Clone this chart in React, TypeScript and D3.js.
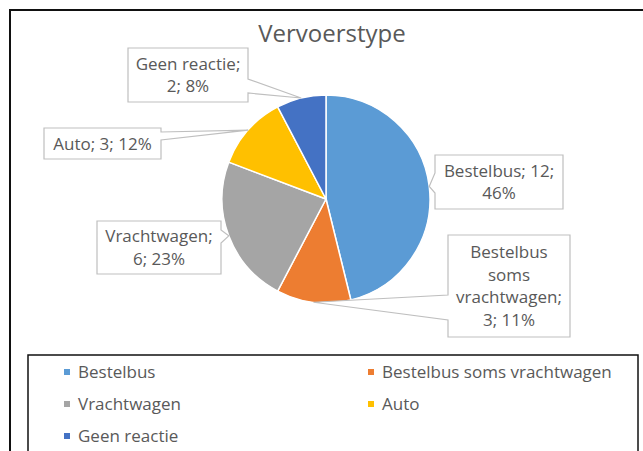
import React, { useRef, useEffect } from "react";
import * as d3 from "d3";

// Chart data
const categories = ["Bestelbus", "Bestelbus soms vrachtwagen", "Vrachtwagen", "Auto", "Geen reactie"];
const counts = [12, 3, 6, 3, 2];
const pctLabels = ["46%", "11%", "23%", "12%", "8%"];
const colors = ["#5B9BD5", "#ED7D31", "#A5A5A5", "#FFC000", "#4472C4"];

// label text lines (as Excel wrapped them)
const labelLines = [
  ["Bestelbus; 12;", pctLabels[0]],
  ["Bestelbus", "soms", "vrachtwagen;", "3; " + pctLabels[1]],
  ["Vrachtwagen;", "6; " + pctLabels[2]],
  ["Auto; 3; " + pctLabels[3]],
  ["Geen reactie;", "2; " + pctLabels[4]],
];

// callout boxes: [x, y, w, h, side of pointer, pointer base y0, y1]
const boxes: [number, number, number, number, "left" | "right", number, number][] = [
  [435, 155, 128, 54, "left", 173, 193],
  [448, 235, 122, 102, "left", 295, 320],
  [97, 221, 124, 53, "right", 230, 243],
  [44, 128, 117, 31, "right", 132, 140],
  [128, 48, 120, 54, "right", 79, 93],
];

const FONT = "'Open Sans', 'Noto Sans', sans-serif";

export default function App() {
  const ref = useRef<SVGSVGElement | null>(null);
  const width = 643, height = 451;
  const cx = 326, cy = 199, r = 104;

  useEffect(() => {
    const svg = d3.select(ref.current);
    svg.selectAll("*").remove();

    // outer chart frame
    svg.append("rect")
      .attr("x", 10).attr("y", 10)
      .attr("width", 660).attr("height", 470)
      .attr("fill", "#fff").attr("stroke", "#111").attr("stroke-width", 2);

    svg.append("text")
      .attr("x", 332).attr("y", 42)
      .attr("text-anchor", "middle")
      .attr("font-family", FONT).attr("font-size", 24)
      .attr("fill", "#595959")
      .text("Vervoerstype");

    const pie = d3.pie<number>().sort(null).value(d => d);
    const arcs = pie(counts);
    const arc = d3.arc<d3.PieArcDatum<number>>().innerRadius(0).outerRadius(r);

    const g = svg.append("g").attr("transform", `translate(${cx},${cy})`);
    g.selectAll("path")
      .data(arcs)
      .join("path")
      .attr("d", arc)
      .attr("fill", (d, i) => colors[i])
      .attr("stroke", "#fff")
      .attr("stroke-width", 1.5);

    // callouts
    arcs.forEach((a, i) => {
      const mid = (a.startAngle + a.endAngle) / 2;
      const tx = cx + r * Math.sin(mid);
      const ty = cy - r * Math.cos(mid);
      const [bx, by, bw, bh, side, p0, p1] = boxes[i];
      const pts: [number, number][] = side === "left"
        ? [[bx, by], [bx + bw, by], [bx + bw, by + bh], [bx, by + bh], [bx, p1], [tx, ty], [bx, p0]]
        : [[bx, by], [bx + bw, by], [bx + bw, p0], [tx, ty], [bx + bw, p1], [bx + bw, by + bh], [bx, by + bh]];
      svg.append("path")
        .attr("d", d3.line()(pts) + "Z")
        .attr("fill", "#fff")
        .attr("stroke", "#BFBFBF")
        .attr("stroke-width", 1.2);

      const lines = labelLines[i];
      const lh = 22.5;
      const top = by + bh / 2 - (lines.length * lh) / 2;
      lines.forEach((t, j) => {
        svg.append("text")
          .attr("x", bx + bw / 2)
          .attr("y", top + j * lh + lh / 2 + 6)
          .attr("text-anchor", "middle")
          .attr("font-family", FONT).attr("font-size", 17)
          .attr("fill", "#595959")
          .text(t);
      });
    });

    // legend
    svg.append("rect")
      .attr("x", 28).attr("y", 355)
      .attr("width", 610).attr("height", 120)
      .attr("fill", "#fff").attr("stroke", "#111").attr("stroke-width", 1.5);

    const colX = [64, 368];
    const rowY = [372, 404, 436];
    const leg = svg.append("g");
    categories.forEach((c, i) => {
      const x = colX[i % 2], y = rowY[Math.floor(i / 2)];
      leg.append("rect")
        .attr("x", x).attr("y", y - 3)
        .attr("width", 6).attr("height", 6)
        .attr("fill", colors[i]);
      leg.append("text")
        .attr("x", x + 14).attr("y", y + 6)
        .attr("font-family", FONT).attr("font-size", 17)
        .attr("fill", "#595959")
        .text(c);
    });
  }, []);

  return (
    <svg ref={ref} width={width} height={height}
      style={{ position: "absolute", left: 0, top: 0, background: "#fff" }} />
  );
}
